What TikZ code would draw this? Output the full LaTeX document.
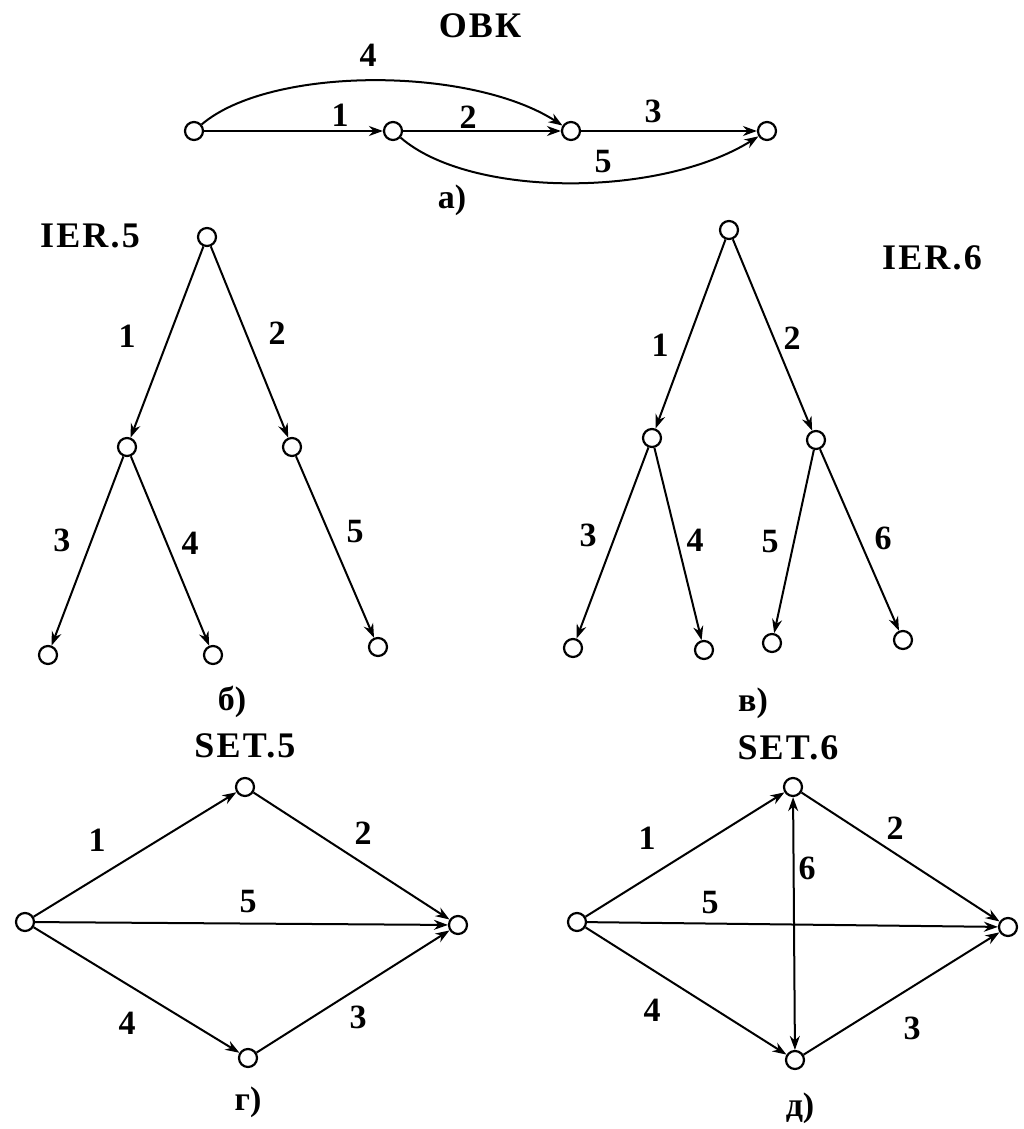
\documentclass[tikz,border=0pt]{standalone}
\usepackage{fontspec}
\setmainfont{Liberation Serif}
\usetikzlibrary{arrows.meta}
\begin{document}
\begin{tikzpicture}[x=0.5pt,y=-0.5pt,
  vtx/.style={circle,draw,line width=1.1pt,minimum size=9pt,inner sep=0pt,fill=white},
  edge/.style={line width=1pt,-{Stealth[length=7pt,width=5pt]}},
  dedge/.style={line width=1pt,{Stealth[length=7pt,width=5pt]}-{Stealth[length=7pt,width=5pt]}},
  lbl/.style={font=\fontsize{17}{18}\selectfont\bfseries,inner sep=0pt},
  ttl/.style={font=\fontsize{18}{19}\selectfont\bfseries\addfontfeatures{LetterSpace=6},inner sep=0pt},
  subcap/.style={font=\fontsize{17}{18}\selectfont\bfseries,inner sep=0pt}]
\useasboundingbox (0,0) rectangle (1023,1129);
% ---- a) OVK
\node[ttl] (tA) at (480,26) {ОВК};
\node[vtx] (a1) at (194,131) {};
\node[vtx] (a2) at (393,131) {};
\node[vtx] (a3) at (571,131) {};
\node[vtx] (a4) at (767,131) {};
\draw[edge] (a1) -- (a2);
\draw[edge] (a2) -- (a3);
\draw[edge] (a3) -- (a4);
\draw[edge] (a1) .. controls (270,66) and (470,66) .. (a3);
\draw[edge] (a2) .. controls (470,198) and (660,198) .. (a4);
\node[lbl] (la1) at (340,115) {1};
\node[lbl] (la2) at (468,117) {2};
\node[lbl] (la3) at (653,111) {3};
\node[lbl] (la4) at (368,55) {4};
\node[lbl] (la5) at (603,162) {5};
\node[subcap] (cA) at (452,200) {а)};
% ---- b) IER.5
\node[ttl] (tB) at (90,236) {IER.5};
\node[vtx] (b0) at (207,237) {};
\node[vtx] (b1) at (127,447) {};
\node[vtx] (b2) at (292,447) {};
\node[vtx] (b3) at (48,655) {};
\node[vtx] (b4) at (213,655) {};
\node[vtx] (b5) at (378,647) {};
\draw[edge] (b0) -- (b1);
\draw[edge] (b0) -- (b2);
\draw[edge] (b1) -- (b3);
\draw[edge] (b1) -- (b4);
\draw[edge] (b2) -- (b5);
\node[lbl] (lb1) at (127,336) {1};
\node[lbl] (lb2) at (277,333) {2};
\node[lbl] (lb3) at (62,540) {3};
\node[lbl] (lb4) at (190,543) {4};
\node[lbl] (lb5) at (355,532) {5};
\node[subcap] (cB) at (232,702) {б)};
% ---- c) IER.6
\node[ttl] (tC) at (932,258) {IER.6};
\node[vtx] (c0) at (729,230) {};
\node[vtx] (c1) at (652,438) {};
\node[vtx] (c2) at (816,440) {};
\node[vtx] (c3) at (573,648) {};
\node[vtx] (c4) at (704,650) {};
\node[vtx] (c5) at (772,643) {};
\node[vtx] (c6) at (903,640) {};
\draw[edge] (c0) -- (c1);
\draw[edge] (c0) -- (c2);
\draw[edge] (c1) -- (c3);
\draw[edge] (c1) -- (c4);
\draw[edge] (c2) -- (c5);
\draw[edge] (c2) -- (c6);
\node[lbl] (lc1) at (660,345) {1};
\node[lbl] (lc2) at (792,338) {2};
\node[lbl] (lc3) at (588,535) {3};
\node[lbl] (lc4) at (695,540) {4};
\node[lbl] (lc5) at (770,542) {5};
\node[lbl] (lc6) at (883,538) {6};
\node[subcap] (cC) at (753,703) {в)};
% ---- d) SET.5
\node[ttl] (tD) at (245,746) {SET.5};
\node[vtx] (d1) at (245,787) {};
\node[vtx] (d0) at (25,922) {};
\node[vtx] (d3) at (458,925) {};
\node[vtx] (d2) at (248,1058) {};
\draw[edge] (d0) -- (d1);
\draw[edge] (d1) -- (d3);
\draw[edge] (d0) -- (d3);
\draw[edge] (d0) -- (d2);
\draw[edge] (d2) -- (d3);
\node[lbl] (ld1) at (97,840) {1};
\node[lbl] (ld2) at (363,833) {2};
\node[lbl] (ld5) at (248,902) {5};
\node[lbl] (ld4) at (127,1023) {4};
\node[lbl] (ld3) at (358,1017) {3};
\node[subcap] (cD) at (248,1102) {г)};
% ---- e) SET.6
\node[ttl] (tE) at (788,748) {SET.6};
\node[vtx] (e1) at (793,787) {};
\node[vtx] (e0) at (577,922) {};
\node[vtx] (e3) at (1008,927) {};
\node[vtx] (e2) at (795,1060) {};
\draw[edge] (e0) -- (e1);
\draw[edge] (e1) -- (e3);
\draw[edge] (e0) -- (e3);
\draw[edge] (e0) -- (e2);
\draw[edge] (e2) -- (e3);
\draw[dedge] (e1) -- (e2);
\node[lbl] (le1) at (647,838) {1};
\node[lbl] (le2) at (895,828) {2};
\node[lbl] (le6) at (807,868) {6};
\node[lbl] (le5) at (710,903) {5};
\node[lbl] (le4) at (652,1010) {4};
\node[lbl] (le3) at (912,1028) {3};
\node[subcap] (cE) at (800,1108) {д)};
\end{tikzpicture}
\end{document}
